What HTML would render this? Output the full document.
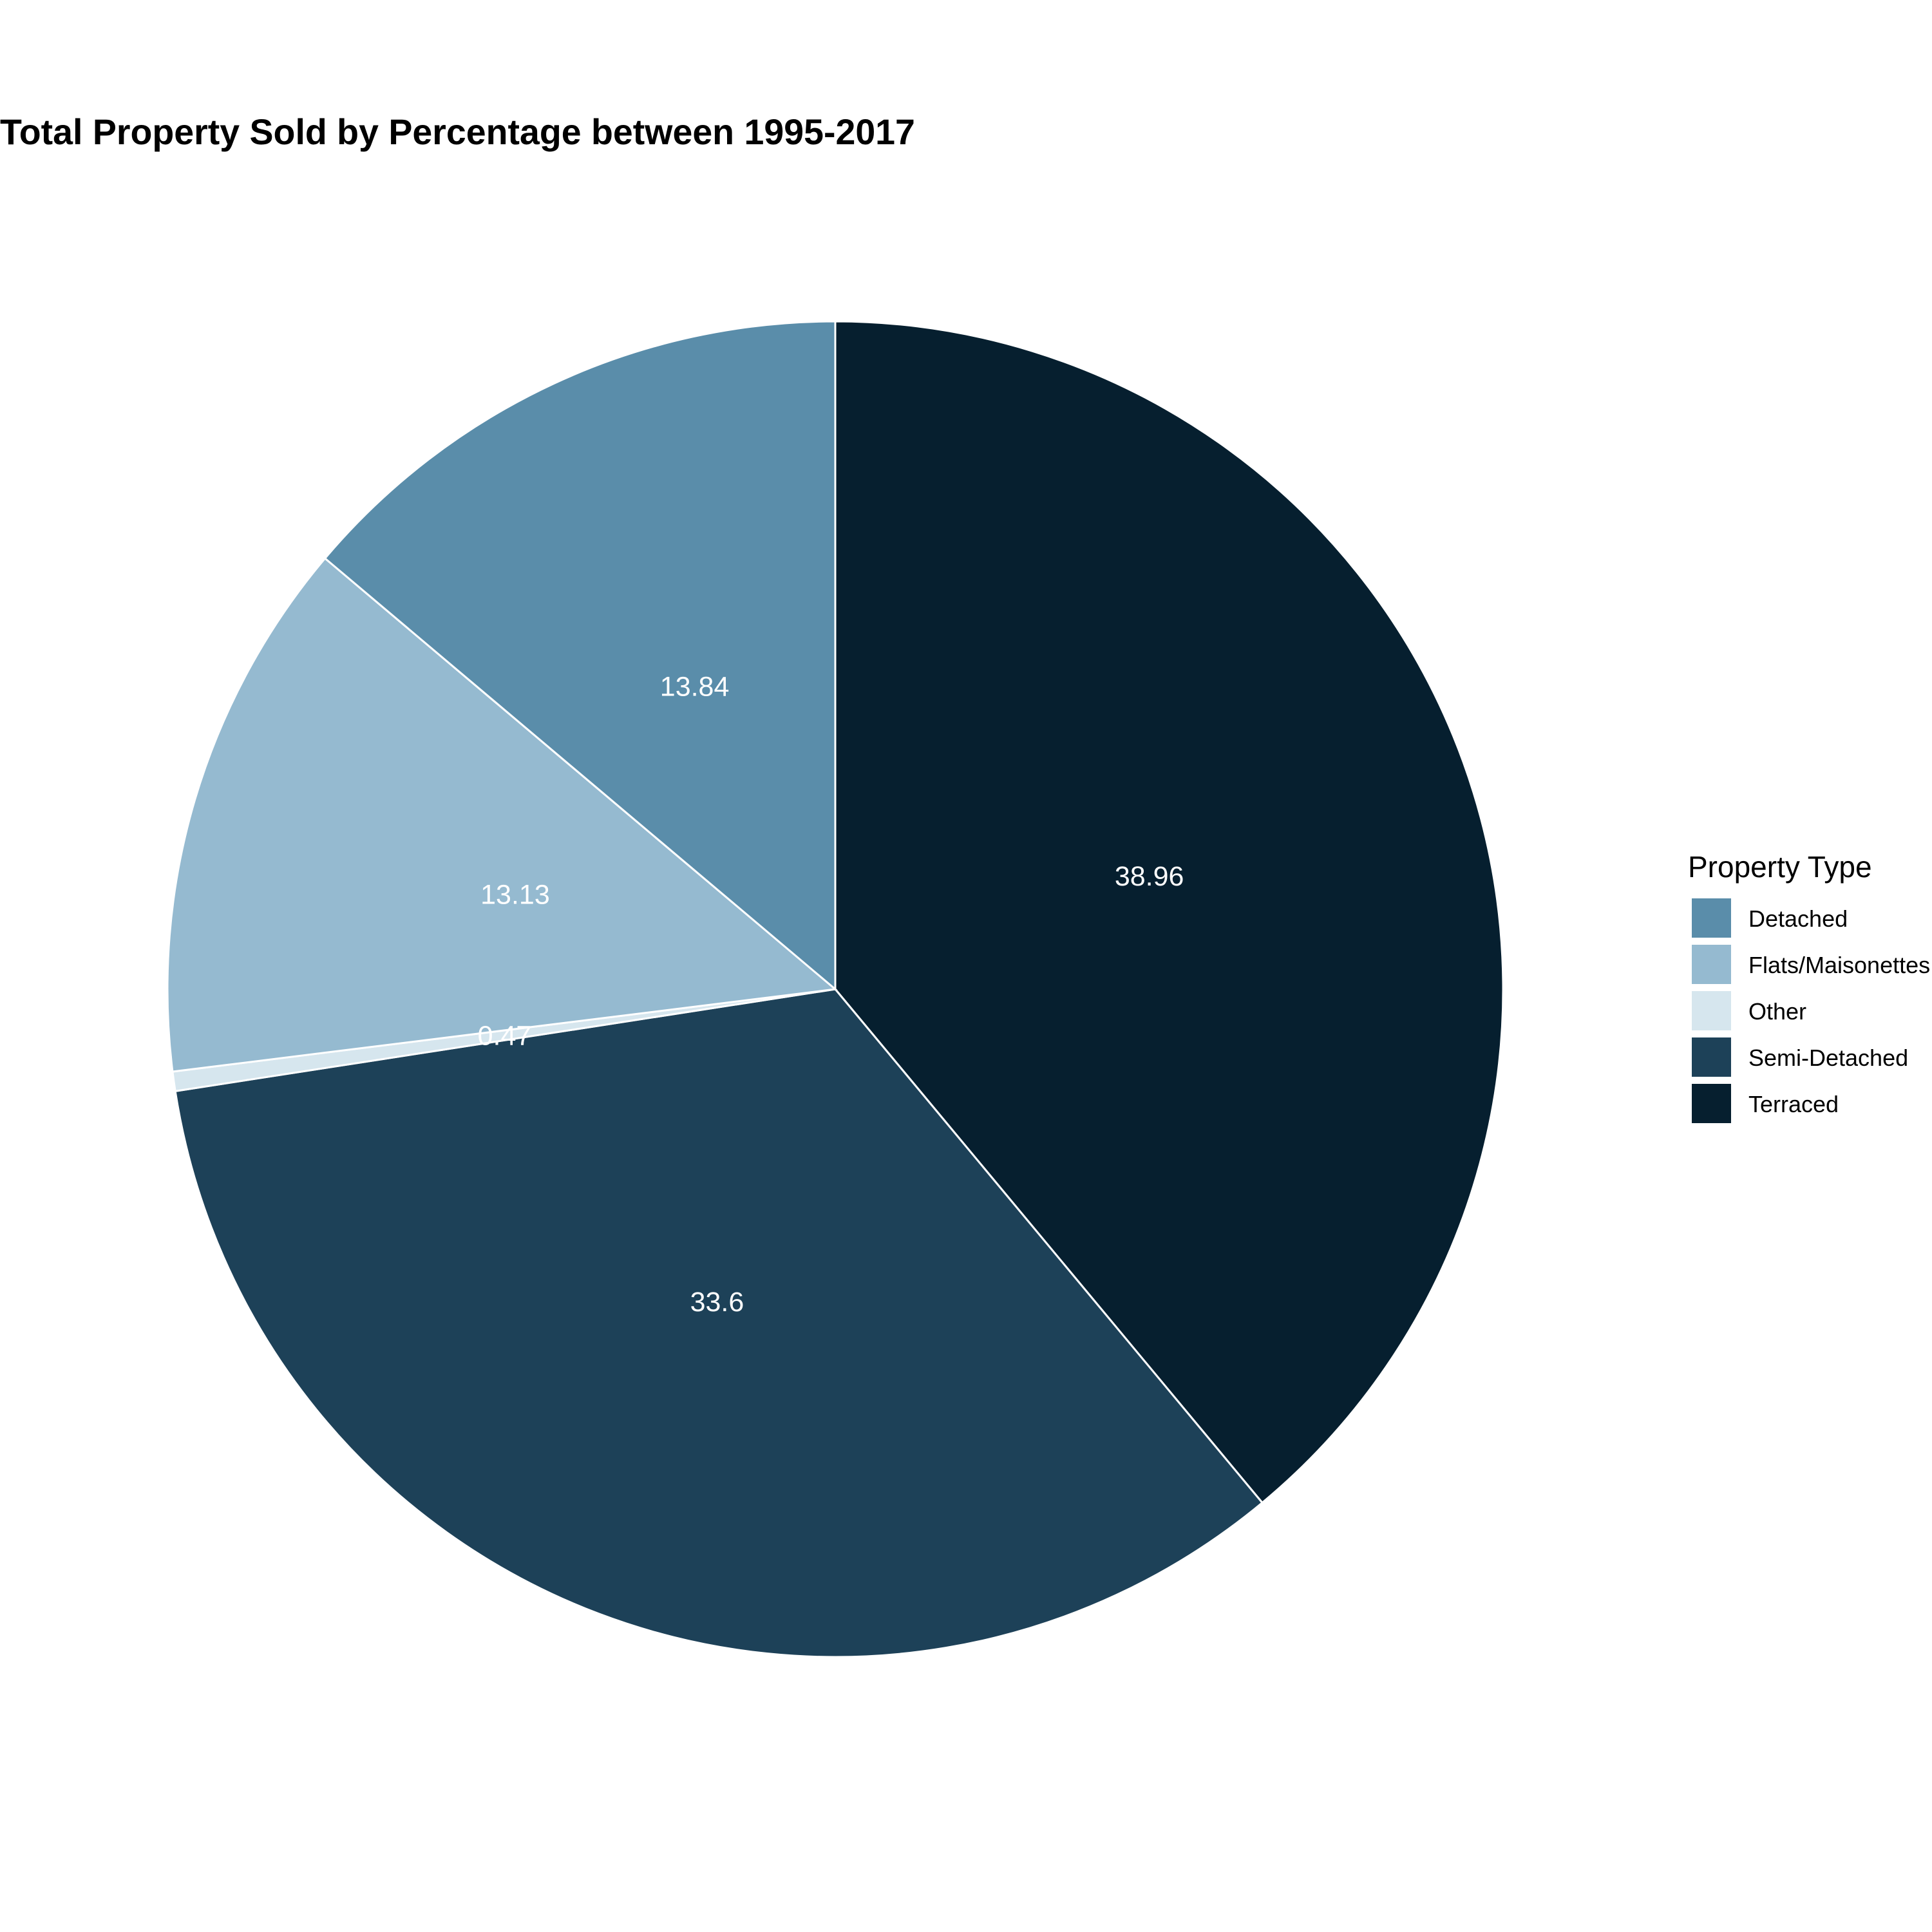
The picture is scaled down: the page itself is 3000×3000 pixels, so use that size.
<!DOCTYPE html>
<html><head><meta charset="utf-8"><style>
html,body{margin:0;padding:0;background:#fff}
svg{display:block;font-family:"Liberation Sans",Arial,sans-serif}
</style></head><body>
<svg id="chart" width="3000" height="3000" viewBox="0 0 3000 3000">
<rect width="3000" height="3000" fill="#fff"/>
<text x="0" y="224" font-size="55.5" font-weight="bold" fill="#000">Total Property Sold by Percentage between 1995-2017</text>
<g id="slices"></g>
<g id="labels"></g>
<g id="legend">
<text x="2621" y="1362" font-size="46" fill="#000">Property Type</text>
</g>
</svg>
<script>
// Slices in drawing order, clockwise from 12 o'clock
const sliceCategories = ["Terraced","Semi-Detached","Other","Flats/Maisonettes","Detached"];
const sliceValues = [38.96, 33.6, 0.47, 13.13, 13.84];
const sliceColors = ["#061F2F","#1D4158","#D6E6EE","#95BAD0","#5A8DAA"];
// Legend order
const legendCategories = ["Detached","Flats/Maisonettes","Other","Semi-Detached","Terraced"];

const NS = "http://www.w3.org/2000/svg";
const cx = 1297, cy = 1536, R = 1037;
const total = sliceValues.reduce((a,b)=>a+b,0);
const angleOf = v => v/total*2*Math.PI;
const pt = (a,r) => [cx + r*Math.sin(a), cy - r*Math.cos(a)];
const gS = document.getElementById('slices'), gL = document.getElementById('labels'), gLeg = document.getElementById('legend');
let acc = 0;
sliceValues.forEach((v,i)=>{
  const a0 = angleOf(acc), a1 = angleOf(acc+v);
  acc += v;
  const p0 = pt(a0,R), p1 = pt(a1,R);
  const large = (a1-a0) > Math.PI ? 1 : 0;
  const path = document.createElementNS(NS,'path');
  path.setAttribute('d', `M${cx},${cy} L${p0[0]},${p0[1]} A${R},${R} 0 ${large} 1 ${p1[0]},${p1[1]} Z`);
  path.setAttribute('fill', sliceColors[i]);
  path.setAttribute('stroke', '#fff');
  path.setAttribute('stroke-width', '3');
  
  
  gS.appendChild(path);
  const am = (a0+a1)/2, lp = pt(am, R/2);
  const t = document.createElementNS(NS,'text');
  t.setAttribute('x', lp[0]); t.setAttribute('y', lp[1] + 15);
  t.setAttribute('text-anchor','middle'); t.setAttribute('font-size','43'); t.setAttribute('fill','#fff');
  t.textContent = String(v);
  
  
  gL.appendChild(t);
});
legendCategories.forEach((c,i)=>{
  const y = 1395 + i*72;
  const r = document.createElementNS(NS,'rect');
  r.setAttribute('x', 2627); r.setAttribute('y', y); r.setAttribute('width', 61); r.setAttribute('height', 61);
  r.setAttribute('fill', sliceColors[sliceCategories.indexOf(c)]);
  
  
  gLeg.appendChild(r);
  const t = document.createElementNS(NS,'text');
  t.setAttribute('x', 2715); t.setAttribute('y', y + 44);
  t.setAttribute('font-size', '36'); t.setAttribute('fill', '#000');
  t.textContent = c;
  
  
  gLeg.appendChild(t);
});
</script>
</body></html>
